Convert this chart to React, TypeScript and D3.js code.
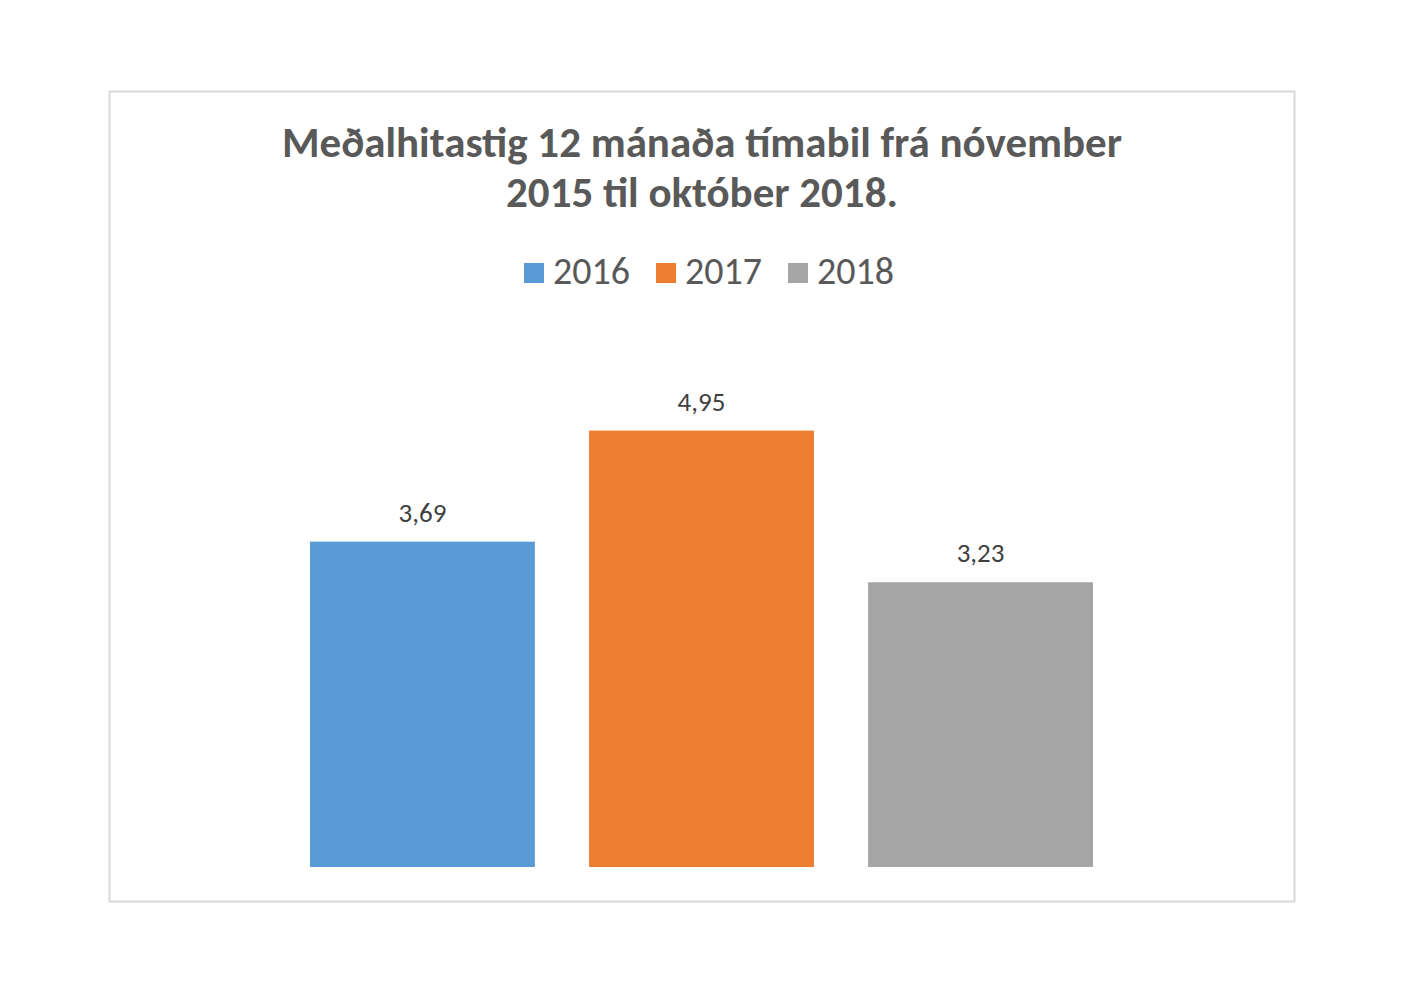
import { useEffect, useRef } from "react";
import * as d3 from "d3";

// Données
const series = ["2016", "2017", "2018"];
const values = [3.69, 4.95, 3.23];
const colors = ["#5B9BD5", "#ED7D31", "#A5A5A5"];
const titleLines = ["Meðalhitastig 12 mánaða tímabil frá nóvember", "2015 til október 2018."];

const FONT = "Carlito, Calibri, 'Open Sans', sans-serif";

export default function App() {
  const svgRef = useRef<SVGSVGElement>(null);

  useEffect(() => {
    document.body.style.margin = "0";
    if (!svgRef.current) return;
    const svg = d3.select(svgRef.current);
    svg.selectAll("*").remove();

    const width = 1403;
    const height = 992;
    svg.attr("width", width).attr("height", height);

    svg.append("rect").attr("width", width).attr("height", height).attr("fill", "#fff");

    // Cadre
    svg
      .append("rect")
      .attr("x", 109.5)
      .attr("y", 91.5)
      .attr("width", 1185)
      .attr("height", 810)
      .attr("fill", "#fff")
      .attr("stroke", "#D9D9D9")
      .attr("stroke-width", 2);

    // Titre
    const title = svg
      .append("text")
      .attr("text-anchor", "middle")
      .style("font-family", FONT)
      .style("font-weight", "bold")
      .style("font-size", "43px")
      .style("fill", "#595959");
    titleLines.forEach((line, i) => {
      title
        .append("tspan")
        .attr("x", 702)
        .attr("y", 157 + i * 50)
        .text(line);
    });

    // Légende
    const legendX = [524, 656, 788];
    series.forEach((s, i) => {
      const g = svg.append("g").attr("transform", `translate(${legendX[i]},263)`);
      g.append("rect").attr("width", 20).attr("height", 20).attr("fill", colors[i]);
      g.append("text")
        .attr("x", 29)
        .attr("y", 21)
        .style("font-family", FONT)
        .style("font-size", "38px")
        .style("fill", "#595959")
        .text(s);
    });

    // Échelles
    const x = d3.scaleBand().domain(series).range([310, 1093]).paddingInner(0.194).paddingOuter(0);
    const y = d3.scaleLinear().domain([0, 6]).range([867, 338]);

    series.forEach((s, i) => {
      svg
        .append("rect")
        .attr("x", x(s) || 0)
        .attr("y", y(values[i]))
        .attr("width", x.bandwidth())
        .attr("height", y(0) - y(values[i]))
        .attr("fill", colors[i]);
      svg
        .append("text")
        .attr("x", (x(s) || 0) + x.bandwidth() / 2)
        .attr("y", y(values[i]) - 20)
        .attr("text-anchor", "middle")
        .style("font-family", FONT)
        .style("font-size", "27px")
        .style("fill", "#404040")
        .text(d3.format(".2f")(values[i]).replace(".", ","));
    });
  }, []);

  return <svg ref={svgRef} style={{ display: "block" }} />;
}
